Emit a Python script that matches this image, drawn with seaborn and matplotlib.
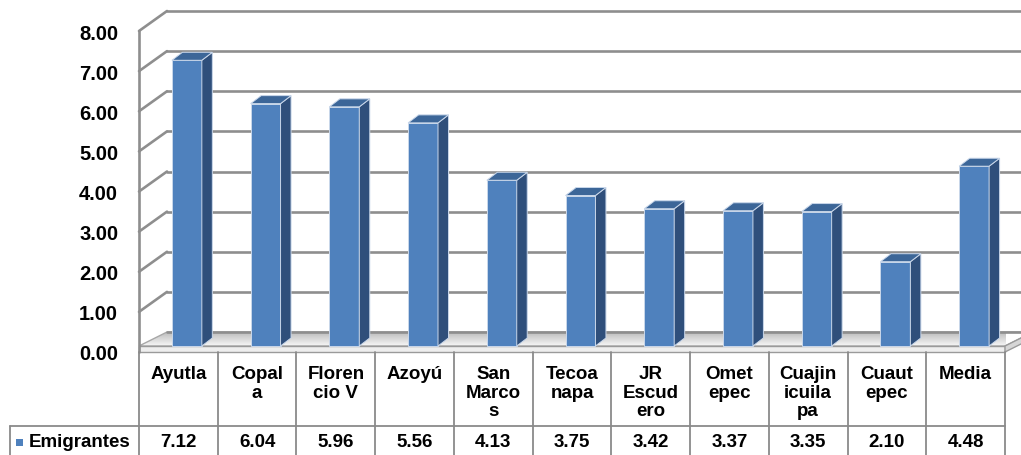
import numpy as np
import pandas as pd
import matplotlib
matplotlib.use("Agg")
import matplotlib.pyplot as plt
import seaborn as sns
from matplotlib.patches import Polygon, Rectangle
from matplotlib.lines import Line2D
from matplotlib.transforms import blended_transform_factory
from matplotlib.colors import LinearSegmentedColormap

# ---- data ----
categories = ["Ayutla", "Copala", "Florencio V", "Azoyú", "San Marcos", "Tecoanapa",
              "JR Escudero", "Ometepec", "Cuajinicuilapa", "Cuautepec", "Media"]
table_labels = ["Ayutla", "Copal\na", "Floren\ncio V", "Azoyú", "San\nMarco\ns", "Tecoa\nnapa",
                "JR\nEscud\nero", "Omet\nepec", "Cuajin\nicuila\npa", "Cuaut\nepec", "Media"]
values = [7.12, 6.04, 5.96, 5.56, 4.13, 3.75, 3.42, 3.37, 3.35, 2.10, 4.48]
series_name = "Emigrantes"
yticks = [0, 1, 2, 3, 4, 5, 6, 7, 8]

sns.set_theme(style="white")
plt.rcParams["font.family"] = ["Liberation Sans", "DejaVu Sans"]
plt.rcParams["font.weight"] = "bold"

W, H = 1021, 456
fig = plt.figure(figsize=(W / 100, H / 100), dpi=100)
ax_l, ax_r, ax_top, ax_bot = 139, 1005, 32, 353
ax = fig.add_axes([ax_l / W, (H - ax_bot) / H, (ax_r - ax_l) / W, (ax_bot - ax_top) / H])

BLUE = "#4f81bd"
SIDE = "#2f4f7b"
TOP = "#3c6698"
GRID = "#8e8e8e"
EDGE = "#c9d7ea"

df = pd.DataFrame({"cat": categories, "val": values})
sns.barplot(data=df, x="cat", y="val", color=BLUE, saturation=1, width=0.38,
            ax=ax, zorder=5, edgecolor=EDGE, linewidth=0.7)
bars = [p for p in ax.patches]

n = len(categories)
ax.set_xlim(-0.5, n - 0.5)
ax.set_ylim(0, 8)

col_px = (ax_r - ax_l) / n
unit_px = (ax_bot - ax_top) / 8.0
# depth offset of back wall (pixels -> data)
wdx, wdy = 28 / col_px, 20 / unit_px
# floor slab thickness
fl = 6 / unit_px
# bar placement / depth
bdx, bdy = 8.5 / col_px, 0.15
ddx, ddy = 10.5 / col_px, 8 / unit_px

# floor slab: top surface with gradient, front and right faces
top_poly = Polygon([(-0.5, fl), (n - 0.5, fl), (n - 0.5 + wdx, wdy), (-0.5 + wdx, wdy)],
                   closed=True, facecolor="none", edgecolor="#a8a8a8", lw=1.0,
                   zorder=1.5, clip_on=False)
ax.add_patch(top_poly)
grad = np.linspace(0, 1, 64).reshape(-1, 1)
cmap = LinearSegmentedColormap.from_list("fl", ["#f6f6f6", "#bdbdbd"])
im = ax.imshow(grad, extent=(-0.5, n - 0.5 + wdx, fl, wdy), origin="lower", aspect="auto",
               cmap=cmap, zorder=1)
im.set_clip_path(top_poly)
im.set_clip_box(None)
ax.set_xlim(-0.5, n - 0.5)
ax.set_ylim(0, 8)
ax.add_patch(Polygon([(-0.5, 0), (n - 0.5, 0), (n - 0.5, fl), (-0.5, fl)], closed=True,
                     facecolor="#eeeeee", edgecolor="#9a9a9a", lw=1.0, zorder=1.6,
                     clip_on=False))
ax.add_patch(Polygon([(n - 0.5, 0), (n - 0.5 + wdx, wdy - fl), (n - 0.5 + wdx, wdy),
                      (n - 0.5, fl)], closed=True, facecolor="#d6d6d6",
                     edgecolor="#9a9a9a", lw=1.0, zorder=1.6, clip_on=False))

# back wall + side wall gridlines
for k in yticks:
    ax.add_line(Line2D([-0.5 + wdx, n + 1], [k + wdy, k + wdy], color=GRID, lw=1.9,
                       zorder=2, clip_on=False))
    if k > 0:
        ax.add_line(Line2D([-0.5, -0.5 + wdx], [k, k + wdy], color=GRID, lw=1.9,
                           zorder=2, clip_on=False))
ax.add_line(Line2D([-0.5, -0.5], [0, 8], color=GRID, lw=1.9, zorder=2, clip_on=False))

# 3D bar faces
for p in bars:
    x0 = p.get_x() + bdx
    w = p.get_width()
    h = p.get_height()
    p.set_x(x0)
    p.set_y(bdy)
    x1 = x0 + w
    yb, yt = bdy, bdy + h
    ax.add_patch(Polygon([(x1, yb), (x1 + ddx, yb + ddy), (x1 + ddx, yt + ddy), (x1, yt)],
                         closed=True, facecolor=SIDE, edgecolor=EDGE, lw=0.7, zorder=5))
    ax.add_patch(Polygon([(x0, yt), (x1, yt), (x1 + ddx, yt + ddy), (x0 + ddx, yt + ddy)],
                         closed=True, facecolor=TOP, edgecolor=EDGE, lw=0.7, zorder=5))

# axes styling
for s in ax.spines.values():
    s.set_visible(False)
ax.set_xlabel("")
ax.set_ylabel("")
ax.set_xticks([])
ax.set_yticks(yticks)
ax.set_yticklabels([f"{t:.2f}" for t in yticks], fontsize=14.5, fontweight="bold", color="black")
ax.tick_params(axis="y", length=0, pad=15)
ax.grid(False)
ax.patch.set_alpha(0)

# data table
tr = blended_transform_factory(ax.transData, fig.transFigure)
def fy(py):
    return (H - py) / H

TBL = "#8a8a8a"
row_split = 427
for i in range(n + 1):
    fig.add_artist(Line2D([i - 0.5, i - 0.5], [fy(ax_bot), fy(H)], transform=tr,
                          color=TBL, lw=1.3))
fig.add_artist(Line2D([10 / W, ax_r / W], [fy(row_split), fy(row_split)],
                      transform=fig.transFigure, color=TBL, lw=1.3))
fig.add_artist(Line2D([10 / W, 10 / W], [fy(row_split), fy(H)],
                      transform=fig.transFigure, color=TBL, lw=1.3))

FS = 13.5
for i, (lab, v) in enumerate(zip(table_labels, values)):
    fig.text(i, fy(366), lab, transform=tr, ha="center", va="top", fontsize=FS,
             fontweight="bold", linespacing=1.13, color="black")
    fig.text(i, fy(443), f"{v:.2f}", transform=tr, ha="center", va="center",
             fontsize=FS, fontweight="bold", color="black")

fig.add_artist(Rectangle((16 / W, fy(447)), 7 / W, 7 / H, transform=fig.transFigure,
                         facecolor=BLUE, edgecolor="none"))
fig.text(29 / W, fy(443), series_name, ha="left", va="center", fontsize=FS,
         fontweight="bold", color="black")

fig.savefig("out.png", dpi=100)
